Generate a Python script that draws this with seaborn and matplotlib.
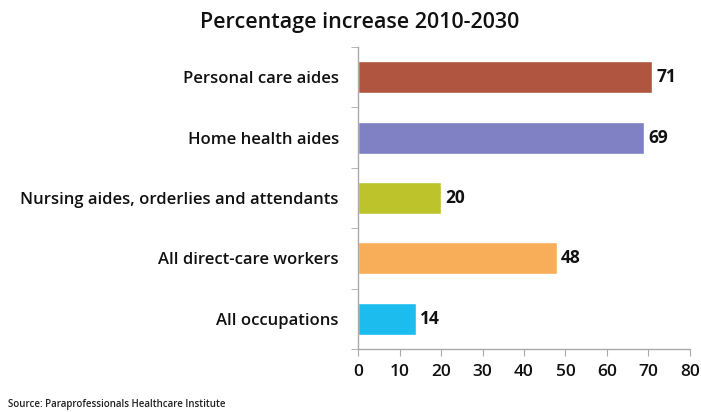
import numpy as np
import pandas as pd
import matplotlib
matplotlib.use("Agg")
import matplotlib.pyplot as plt
import seaborn as sns

categories = [
    "Personal care aides",
    "Home health aides",
    "Nursing aides, orderlies and attendants",
    "All direct-care workers",
    "All occupations",
]
values = [71, 69, 20, 48, 14]
bar_colors = ["#B0553F", "#8080C5", "#BDC32B", "#F8AD58", "#1DBCEE"]
x_ticks = [0, 10, 20, 30, 40, 50, 60, 70, 80]

sns.set_style("white")
plt.rcParams["font.family"] = ["Open Sans", "DejaVu Sans"]

df = pd.DataFrame({"category": categories, "value": values})

fig = plt.figure(figsize=(7.01, 4.12), dpi=100)
ax = fig.add_axes([0.511, 0.153, 0.473, 0.733])

sns.barplot(data=df, y="category", x="value", hue="category",
            palette=bar_colors, width=0.53, legend=False, ax=ax,
            saturation=1)

for i, v in enumerate(values):
    ax.text(v + 0.9, i, f"{v}", va="center", ha="left",
            fontsize=12.5, fontweight="bold", color="#111111")

ax.set_xlim(0, 80)
ax.set_ylim(len(categories) - 0.5, -0.5)
ax.set_xticks(x_ticks)
ax.set_xticklabels([str(t) for t in x_ticks], fontsize=12.5,
                   fontweight="semibold", color="#111111")
ax.set_yticks(range(len(categories)))
ax.set_yticklabels(categories, fontsize=12, fontweight="semibold",
                   color="#111111")
ax.set_yticks(np.arange(-0.5, len(categories), 1.0), minor=True)
ax.tick_params(axis="y", which="major", length=0, pad=14)
ax.tick_params(axis="y", which="minor", length=5, color="#AAAAAA",
               direction="out", left=True)
ax.tick_params(axis="x", which="major", length=5, color="#AAAAAA",
               direction="out", bottom=True, pad=6)
ax.set_xlabel("")
ax.set_ylabel("")

for side in ["top", "right"]:
    ax.spines[side].set_visible(False)
for side in ["left", "bottom"]:
    ax.spines[side].set_color("#AAAAAA")
    ax.spines[side].set_linewidth(1.0)

fig.text(0.513, 0.945, "Percentage increase 2010-2030", ha="center",
         va="center", fontsize=15.5, fontweight="semibold", color="#111111")
fig.text(0.012, 0.018, "Source: Paraprofessionals Healthcare Institute",
         ha="left", va="center", fontsize=7, fontweight="semibold",
         color="#222222")

fig.savefig("out.png", dpi=100)
